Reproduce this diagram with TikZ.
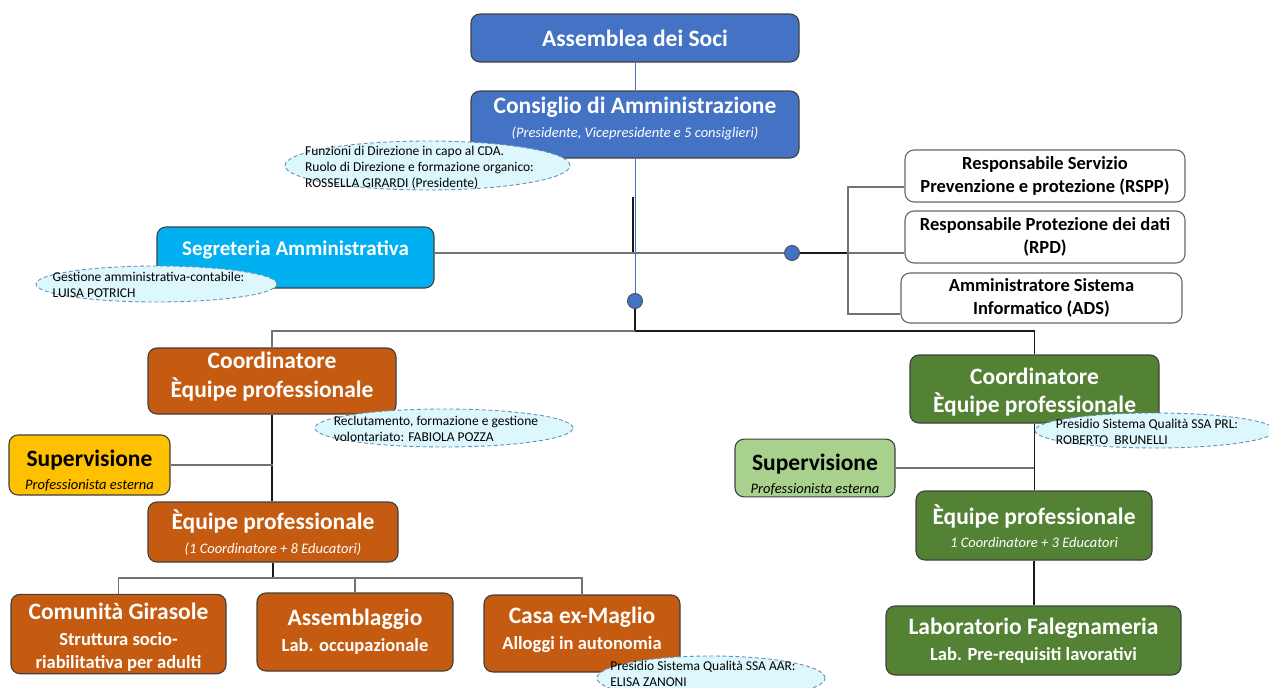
\documentclass[tikz,border=0pt]{standalone}
\usepackage{fontspec}
\setmainfont{Carlito}
\usetikzlibrary{shapes.geometric}
% type sizes of the chart
\newcommand{\boxtitle}{\fontsize{23.5}{28}\selectfont\bfseries}
\newcommand{\boxsub}{\fontsize{18.5}{23}\selectfont\bfseries}
\newcommand{\boxital}{\fontsize{14.5}{17}\selectfont\mdseries\itshape}
\newcommand{\notesize}{\fontsize{13.5}{16}\selectfont}
\newcommand{\notetext}[2][-6pt]{\makebox[0pt]{\hspace*{-16pt}\smash{\raisebox{#1}{\notesize\begin{tabular}{@{}l@{}}#2\end{tabular}}}}}
\begin{document}
\begin{tikzpicture}[x=1pt,y=-1pt,
  orgbox/.style={draw=black!75,line width=1.1pt,rounded corners=9pt,align=center,inner sep=2pt,font=\boxtitle,text=white},
  plainbox/.style={orgbox,fill=white,text=black,draw=black!60,font=\boxsub},
  note/.style={ellipse,draw=noteline,dash pattern=on 4pt off 2.5pt,fill=notefill,line width=0.9pt,inner sep=0pt},
  dot/.style={circle,draw=black!70,fill=cdablue,line width=0.9pt,minimum size=15pt,inner sep=0pt},
  link/.style={draw=black!55,line width=1.1pt},
  stem/.style={draw=black!90,line width=1.1pt},
  bluelink/.style={draw=cdablue,line width=0.9pt}]
\definecolor{cdablue}{HTML}{4472C4}
\definecolor{segcyan}{HTML}{00B0F0}
\definecolor{coop}{HTML}{C55A11}
\definecolor{coopgreen}{HTML}{548235}
\definecolor{supyellow}{HTML}{FFC000}
\definecolor{suplgreen}{HTML}{A9D18E}
\definecolor{notefill}{HTML}{DDF8FC}
\definecolor{noteline}{HTML}{6C8EBF}
\useasboundingbox (0,0) rectangle (1269,688);
% governing bodies
\node[orgbox,fill=cdablue,minimum width=328,minimum height=48] (assemblea) at (635,38) {Assemblea dei Soci};
\node[orgbox,fill=cdablue,minimum width=328,minimum height=67] (consiglio) at (635,124.5) {Consiglio di Amministrazione\\[-4pt]{\boxital (Presidente, Vicepresidente e 5 consiglieri)\rule[-14pt]{0pt}{1pt}}};
\node[orgbox,fill=segcyan,minimum width=277,minimum height=61] (segreteria) at (295.5,257.5) {\fontsize{21}{25}\selectfont Segreteria Amministrativa\rule[-18pt]{0pt}{1pt}};
\node[dot] (dotmain) at (635,301) {};
\node[dot] (dotright) at (792,253) {};
\coordinate (jseg) at (633,197);
\coordinate (rbus) at (848,253);
\coordinate (mbus) at (635,331);
% staff functions
\node[plainbox,minimum width=280,minimum height=52] (rspp) at (1045,176) {Responsabile Servizio\\Prevenzione e protezione (RSPP)};
\node[plainbox,minimum width=280,minimum height=52] (rpd) at (1045,237) {Responsabile Protezione dei dati\\(RPD)};
\node[plainbox,minimum width=281,minimum height=50] (ads) at (1041.5,298) {Amministratore Sistema\\Informatico (ADS)};
% left team
\node[orgbox,fill=coop,minimum width=248,minimum height=66] (coordl) at (272,381) {Coordinatore\\[1pt]Èquipe professionale\rule[-13pt]{0pt}{1pt}};
\node[orgbox,fill=supyellow,text=black,minimum width=161,minimum height=60] (superl) at (89.5,465) {\rule{0pt}{27pt}Supervisione\\[-5pt]{\boxital Professionista esterna}};
\node[orgbox,fill=coop,minimum width=250,minimum height=60] (eqpl) at (273,532) {\rule{0pt}{21pt}Èquipe professionale\\[-3.5pt]{\boxital (1 Coordinatore + 8 Educatori)}};
\coordinate (lbus) at (273,578);
\node[orgbox,fill=coop,minimum width=215,minimum height=78] (comunita) at (118.5,634) {\rule{0pt}{23.5pt}Comunità Girasole\\[-2pt]{\boxsub Struttura socio-}\\[-5pt]{\boxsub riabilitativa per adulti}};
\node[orgbox,fill=coop,minimum width=196,minimum height=78] (assemblaggio) at (355,632) {Assemblaggio\\[-2pt]{\boxsub Lab. occupazionale}};
\node[orgbox,fill=coop,minimum width=196,minimum height=77] (casa) at (582,633.5) {Casa ex-Maglio\\[-2pt]{\boxsub Alloggi in autonomia\rule[-11pt]{0pt}{1pt}}};
% right team
\node[orgbox,fill=coopgreen,minimum width=249,minimum height=68] (coordr) at (1034.5,389) {\rule{0pt}{23.5pt}Coordinatore\\Èquipe professionale};
\node[orgbox,fill=suplgreen,text=black,minimum width=160,minimum height=50] (superr) at (815,468) {\rule{0pt}{29pt}Supervisione\\[-5pt]{\boxital Professionista esterna}};
\node[orgbox,fill=coopgreen,minimum width=236,minimum height=69] (eqpr) at (1034,525.5) {\rule{0pt}{21pt}Èquipe professionale\\[-5pt]{\boxital 1 Coordinatore + 3 Educatori}};
\node[orgbox,fill=coopgreen,minimum width=295,minimum height=69] (falegn) at (1033.5,640.5) {Laboratorio Falegnameria\\[-2pt]{\boxsub Lab. Pre-requisiti lavorativi}};
% connectors
\draw[bluelink] (assemblea) -- (consiglio);
\draw[bluelink] (consiglio) -- (dotmain);
\draw[stem] (jseg) -- (jseg |- dotright);
\draw[link] (segreteria.east |- dotright) -- (dotright);
\draw[stem,line width=2pt] (dotright) -- (rbus);
\draw[link] (rbus) |- ([yshift=-11pt]rspp.west);
\draw[link] (rbus) -- (rbus -| rpd.west);
\draw[link] (rbus) |- ([yshift=-16pt]ads.west);
\draw[stem] (dotmain) -- (mbus);
\draw[link] (mbus) -| (coordl.north);
\draw[stem] (mbus) -| (coordr.north);
\draw[stem] (coordl.south) -- (coordl.south |- eqpl.north);
\draw[link] (superl.east) -- (superl.east -| eqpl.north);
\draw[stem] (eqpl.south) -- (lbus);
\draw[link] (lbus) -| (comunita.north);
\draw[link] (lbus) -| (assemblaggio.north);
\draw[link] (lbus) -| (casa.north);
\draw[stem] (coordr.south) -- (coordr.south |- eqpr.north);
\draw[link] (superr.east) -- (superr.east -| eqpr.north);
\draw[stem] (eqpr.south) -- (eqpr.south |- falegn.north);
% notes
\node[note,minimum width=285,minimum height=49] (notecda) at (427.5,165.5) {\notetext{Funzioni di Direzione in capo al CDA.\\Ruolo di Direzione e formazione organico:\\ROSSELLA GIRARDI (Presidente)}};
\node[note,minimum width=241,minimum height=36] (notesegr) at (156.5,284) {\notetext{Gestione amministrativa-contabile:\\LUISA POTRICH}};
\node[note,minimum width=258,minimum height=38] (notevol) at (444,428) {\notetext{Reclutamento, formazione e gestione\\volontariato: FABIOLA POZZA}};
\node[note,minimum width=240,minimum height=35] (noteprl) at (1155,430.5) {\notetext{Presidio Sistema Qualità SSA PRL:\\ROBERTO\ \ BRUNELLI}};
\node[note,minimum width=228,minimum height=44] (noteaar) at (711,678) {\notetext[-0.5pt]{Presidio Sistema Qualità SSA AAR:\\ELISA ZANONI}};
\end{tikzpicture}
\end{document}
